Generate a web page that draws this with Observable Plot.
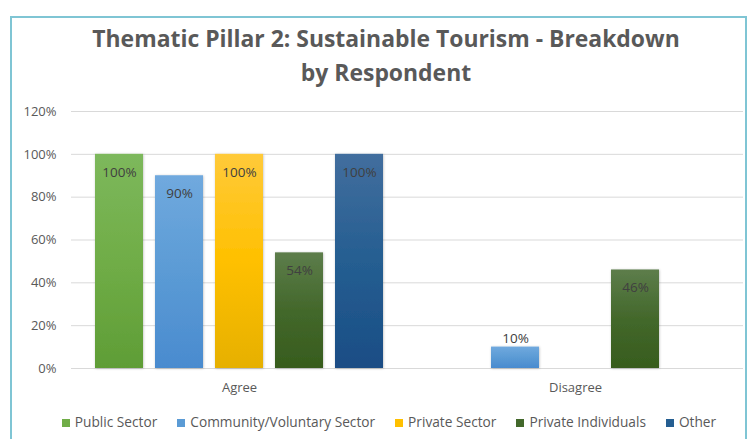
<!DOCTYPE html>
<html>
<head>
<meta charset="utf-8">
<script src="https://cdn.jsdelivr.net/npm/d3@7"></script>
<script src="https://cdn.jsdelivr.net/npm/@observablehq/plot@0.6"></script>
<style>
  html, body { margin: 0; padding: 0; background: #fff; }
  #wrap { position: relative; width: 749px; height: 439px; overflow: hidden; font-family: "Open Sans", sans-serif; }
  #border { position: absolute; left: 10px; top: 16px; width: 733px; height: 440px; border: 2px solid #7fc5d4; }
  #title { position: absolute; left: 0; width: 772px; top: 22px; text-align: center; font-weight: bold; color: #595959; line-height: 34px; font-size: 26px; white-space: nowrap; }
  #title span { display: inline-block; }
  #chart { position: absolute; left: 0; top: 95px; }
  #legend { position: absolute; left: 0; width: 778px; top: 412px; display: flex; justify-content: center; gap: 20px; font-size: 13.7px; color: #595959; }
  #legend .item { display: flex; align-items: center; }
  #legend .sw { width: 8px; height: 8px; margin-right: 5px; margin-top: 2px; }
</style>
</head>
<body>
<div id="wrap">
  <div id="border"></div>
  <div id="title"><span id="t1">Thematic Pillar 2: Sustainable Tourism - Breakdown</span><br><span>by Respondent</span></div>
  <div id="chart"></div>
  <div id="legend"></div>
</div>
<script>
const categories = ["Agree", "Disagree"];
const series = ["Public Sector", "Community/Voluntary Sector", "Private Sector", "Private Individuals", "Other"];
const agreeValues = [100, 90, 100, 54, 100];
const disagreeValues = [0, 10, 0, 46, 0];
const yTicks = [0, 20, 40, 60, 80, 100, 120];
const seriesColors = ["#70ad47", "#5b9bd5", "#ffc000", "#43682b", "#255e91"];
const gradTop = ["#7db85c", "#70a9de", "#ffca3a", "#5d7d4b", "#426e9e"];
const gradBottom = ["#5f9d36", "#4a8bcf", "#e6b000", "#375c1d", "#1a4d85"];

const rows = [];
categories.forEach((c, ci) => {
  const vals = ci === 0 ? agreeValues : disagreeValues;
  series.forEach((s, si) => rows.push({cat: c, series: s, value: vals[si], idx: si}));
});

const barMarks = series.map((s, i) =>
  Plot.barY(rows.filter(d => d.series === s && d.value > 0), {
    fx: "cat", x: "series", y: "value", fill: `url(#grad${i})`
  })
);

const chart = Plot.plot({
  width: 749,
  height: 305,
  marginLeft: 71,
  marginRight: 6,
  marginTop: 16,
  marginBottom: 32,
  style: {fontFamily: "Open Sans", fontSize: "13px", color: "#595959", background: "transparent", overflow: "visible"},
  fx: {domain: categories, padding: 0, label: null, axis: "bottom", tickSize: 0, tickPadding: 14},
  x: {domain: series, paddingInner: 0.2, paddingOuter: 0.4, axis: null},
  y: {domain: [0, 120], ticks: yTicks, tickFormat: d => d + "%", tickSize: 0, tickPadding: 15, label: null},
  marks: [
    Plot.ruleY(yTicks, {stroke: "#d9d9d9", strokeWidth: 1}),
    ...barMarks,
    Plot.text(rows.filter(d => d.value >= 20), {fx: "cat", x: "series", y: "value", text: d => d.value + "%", dy: 18, fill: "#404040", fontSize: 13.5}),
    Plot.text(rows.filter(d => d.value > 0 && d.value < 20), {fx: "cat", x: "series", y: "value", text: d => d.value + "%", dy: -8, fill: "#404040", fontSize: 13.5})
  ]
});

// gradient and shadow definitions
const ns = "http://www.w3.org/2000/svg";
const defs = document.createElementNS(ns, "defs");
series.forEach((s, i) => {
  const g = document.createElementNS(ns, "linearGradient");
  g.setAttribute("id", `grad${i}`);
  g.setAttribute("x1", "0"); g.setAttribute("y1", "0");
  g.setAttribute("x2", "0"); g.setAttribute("y2", "1");
  [[0, gradTop[i]], [0.5, seriesColors[i]], [1, gradBottom[i]]].forEach(([o, c]) => {
    const st = document.createElementNS(ns, "stop");
    st.setAttribute("offset", o);
    st.setAttribute("stop-color", c);
    g.appendChild(st);
  });
  defs.appendChild(g);
});
const filt = document.createElementNS(ns, "filter");
filt.setAttribute("id", "shadow");
filt.setAttribute("x", "-20%"); filt.setAttribute("y", "-20%");
filt.setAttribute("width", "140%"); filt.setAttribute("height", "140%");
const ds = document.createElementNS(ns, "feDropShadow");
ds.setAttribute("dx", "0.5"); ds.setAttribute("dy", "0.5");
ds.setAttribute("stdDeviation", "1.2");
ds.setAttribute("flood-color", "#000");
ds.setAttribute("flood-opacity", "0.25");
filt.appendChild(ds);
defs.appendChild(filt);

const svgEl = chart.tagName.toLowerCase() === "svg" ? chart : chart.querySelector("svg");
svgEl.insertBefore(defs, svgEl.firstChild);
svgEl.querySelectorAll('g[aria-label="bar"] rect').forEach(r => r.setAttribute("filter", "url(#shadow)"));
// make sure axis labels use 13px
svgEl.querySelectorAll('g[aria-label^="y-axis"], g[aria-label^="fx-axis"]').forEach(g => {
  g.setAttribute("font-size", "13");
  g.querySelectorAll("text").forEach(t => t.setAttribute("font-size", "13"));
});
document.getElementById("chart").appendChild(chart);

// legend
const legend = document.getElementById("legend");
series.forEach((s, i) => {
  const item = document.createElement("div");
  item.className = "item";
  const sw = document.createElement("div");
  sw.className = "sw";
  sw.style.background = seriesColors[i];
  const lab = document.createElement("span");
  lab.textContent = s;
  item.appendChild(sw);
  item.appendChild(lab);
  legend.appendChild(item);
});

// fit title width to reference (~588px)
const t1 = document.getElementById("t1");
const w = t1.getBoundingClientRect().width;
const title = document.getElementById("title");
title.style.fontSize = (26 * 588 / w) + "px";
</script>
</body>
</html>
